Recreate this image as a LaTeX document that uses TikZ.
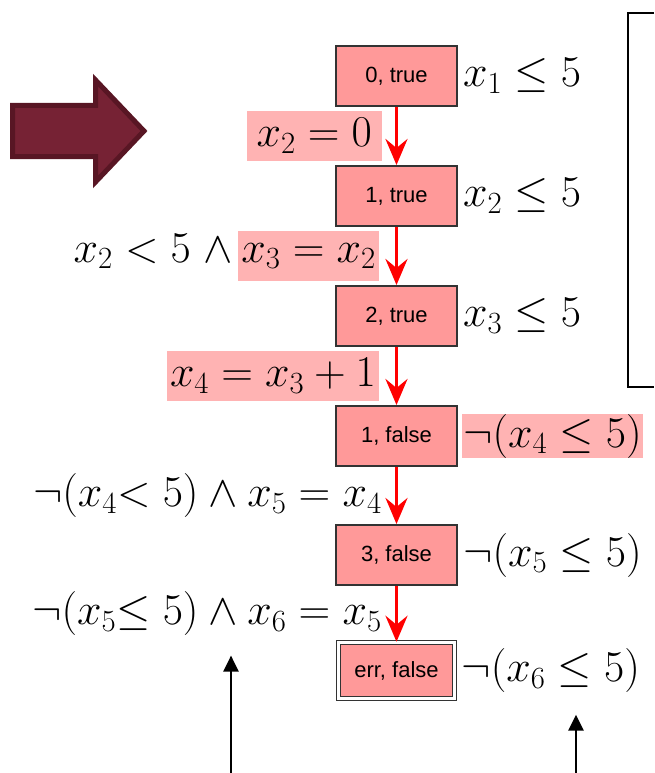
\documentclass[tikz,border=0pt]{standalone}
\usepackage{fix-cm}
\usepackage{amsmath}
\usepackage{fontspec}
\setsansfont{Liberation Sans}
\usepackage{tikz}
\usetikzlibrary{arrows.meta,positioning,calc}
\definecolor{statepink}{RGB}{255,153,153}
\definecolor{edgegray}{RGB}{51,51,51}
\definecolor{hlpink}{RGB}{255,179,179}
\definecolor{bigarrow}{RGB}{118,34,52}
\definecolor{bigarrowedge}{RGB}{88,22,36}

\begin{document}
\begin{tikzpicture}[
  x=1pt,y=-1pt,
  state/.style={rectangle,draw=edgegray,line width=2pt,fill=statepink,minimum width=121pt,minimum height=60pt,inner sep=0pt,font=\sffamily\fontsize{22}{26}\selectfont},
  errstate/.style={state,line width=1.5pt,double=white,double distance=2.5pt,minimum width=116pt,minimum height=56pt},
  formula/.style={inner sep=0pt,text=black,font=\fontsize{44}{52}\selectfont},
  hl/.style={formula,fill=hlpink,inner xsep=3pt,minimum height=50pt},
  flow/.style={-{Stealth[length=26pt,width=22pt,inset=9pt]},red,line width=3.5pt},
  pointer/.style={-{Triangle[length=16pt,width=15pt]},black,line width=2.5pt},
]
\useasboundingbox (0,0) rectangle (654,773);

% Big arrow
\draw[fill=bigarrow,draw=bigarrowedge,line width=5pt,line join=miter] (12.5,105.5) -- (95.5,105.5) -- (95.5,80) -- (144,131) -- (95.5,182) -- (95.5,156.5) -- (12.5,156.5) -- cycle;

% Bracket
\draw[line width=2.5pt,line join=miter] (654,13) -- (628,13) -- (628,387) -- (654,387);

% States
\node[state] (s0) at (396.5,76) {0, true};
\node[state] (s1) at (396.5,196) {1, true};
\node[state] (s2) at (396.5,316) {2, true};
\node[state] (s3) at (396.5,436) {1, false};
\node[state] (s4) at (396.5,555) {3, false};
\node[errstate] (s5) at (396.5,670.5) {err, false};

% Conditions
\node[formula,right=5pt of s0] (p0) {$x_1 \le 5$};
\node[formula,right=5pt of s1] (p1) {$x_2 \le 5$};
\node[formula,right=5pt of s2] (p2) {$x_3 \le 5$};
\node[formula,fill=hlpink,inner xsep=1pt,inner ysep=0pt,right=4pt of s3] (p3) {$\neg(x_4 \le 5)$};
\node[formula,right=5pt of s4] (p4) {$\neg(x_5 \le 5)$};
\node[formula,right=6pt of s5] (p5) {$\neg(x_6 \le 5)$};

% Connections
\draw[flow] (s0) -- node[hl,minimum width=135pt,left=13pt] (e0) {$x_2 = 0$} (s1);
\draw[flow] (s1) -- node[hl,left=16pt] (e1) {$x_3 = x_2$} (s2);
\node[formula,anchor=base east] (e1a) at ([xshift=-4pt]e1.base west) {$x_2 < 5\;{\wedge}$};
\draw[flow] (s2) -- node[hl,left=16pt] (e2) {$x_4 = x_3 + 1$} (s3);
\draw[flow] (s3) -- node[formula,left=13pt] (e3) {$\neg(x_4{<}\;5) \wedge x_5 = x_4$} (s4);
\draw[flow] (s4) -- node[formula,left=13pt] (e4) {$\neg(x_5{\le}\;5) \wedge x_6 = x_5$} (s5);

% Pointers
\coordinate (tailA) at (231,773);
\coordinate (tailB) at (576,773);
\draw[pointer] (tailA) -- ($(tailA |- e4.south)+(0,18)$);
\draw[pointer] (tailB) -- ($(tailB |- p5.south)+(0,22)$);

\end{tikzpicture}
\end{document}
